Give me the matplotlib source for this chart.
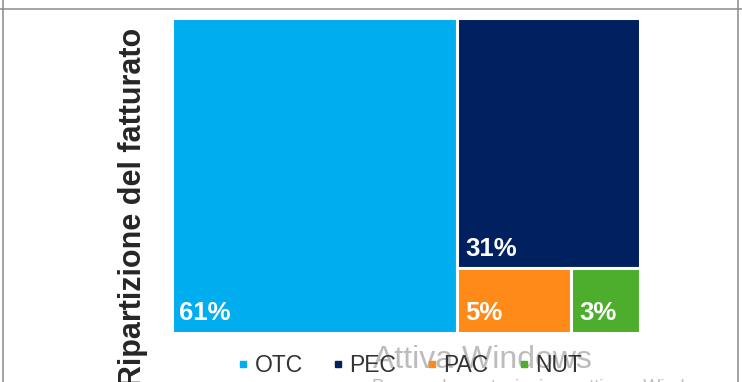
import matplotlib
matplotlib.use("Agg")
import matplotlib.pyplot as plt
from matplotlib.patches import Rectangle
from matplotlib.lines import Line2D

plt.rcParams["font.family"] = ["Liberation Sans", "DejaVu Sans"]

# Revenue split by business line (percent)
segments = ["OTC", "PEC", "PAC", "NUT"]
shares = [61, 31, 5, 3]
colors = ["#00AEEF", "#00205F", "#FF8A17", "#4DAE2D"]


def worst_ratio(row, side):
    s = sum(row)
    return max(max(side * side * r / (s * s), s * s / (side * side * r)) for r in row)


def squarify(areas, x, y, w, h):
    """Plain squarified treemap layout; returns (x, y, w, h) per area, top-down."""
    rects = []
    areas = list(areas)
    while areas:
        side = min(w, h)
        row = [areas[0]]
        i = 1
        while i < len(areas) and worst_ratio(row + [areas[i]], side) <= worst_ratio(row, side):
            row.append(areas[i])
            i += 1
        areas = areas[i:]
        s = sum(row)
        if w >= h:
            # column on the left, items stacked from the top
            cw = s / h
            cy = y + h
            for a in row:
                rh = a / cw
                rects.append((x, cy - rh, cw, rh))
                cy -= rh
            x += cw
            w -= cw
        else:
            # row along the top, items placed left to right
            rh = s / w
            cx = x
            for a in row:
                rw = a / rh
                rects.append((cx, y + h - rh, rw, rh))
                cx += rw
            h -= rh
    return rects


W, H = 468.5, 315.0
areas = [v / sum(shares) * W * H for v in shares]
rects = squarify(areas, 0, 0, W, H)

fig = plt.figure(figsize=(7.42, 3.82), dpi=100)
ax = fig.add_axes([171.5 / 742, 1 - 332.5 / 382, W / 742, H / 382])
ax.set_xlim(0, W)
ax.set_ylim(0, H)
ax.axis("off")

for (rx, ry, rw, rh), col, val in zip(rects, colors, shares):
    ax.add_patch(Rectangle((rx, ry), rw, rh, facecolor=col, edgecolor="white", linewidth=2.2))
    ax.annotate(f"{val}%", xy=(rx, ry), xytext=(8, 12), textcoords="offset pixels",
                ha="left", va="baseline", color="white", fontsize=18.5, fontweight="bold")

fig.text(133 / 742, 1 - 207 / 382, "Ripartizione del fatturato", rotation=90,
         ha="center", va="center", fontsize=22, fontweight="bold", color="#262626")

handles = [Line2D([], [], marker="s", linestyle="none", markersize=5,
                  markerfacecolor=c, markeredgecolor=c) for c in colors]
fig.legend(handles, segments, loc="center", bbox_to_anchor=(411 / 742, 1 - 366 / 382),
           ncol=4, frameon=False, fontsize=16.5, handlelength=0.3, handletextpad=0.35,
           columnspacing=1.4, labelcolor="#333333", borderaxespad=0, borderpad=0)

# slide frame
frame = dict(color="#8a8a8a", linewidth=1.1, transform=fig.transFigure)
fig.add_artist(Line2D([0, 1], [1 - 8.5 / 382] * 2, **frame))
fig.add_artist(Line2D([2.5 / 742] * 2, [0, 1], **frame))
fig.add_artist(Line2D([737.5 / 742] * 2, [0, 1], **frame))

# desktop activation notice overlaid on the slide
fig.text(373 / 742, 1 - 368 / 382, "Attiva Windows", ha="left", va="baseline",
         fontsize=23, color="#a0a0a0", alpha=0.7)
fig.text(372 / 742, 1 - 392 / 382, "Passa a Impostazioni per attivare Windows.",
         ha="left", va="baseline", fontsize=13, color="#a0a0a0", alpha=0.7)

fig.savefig("out.png", dpi=100)
